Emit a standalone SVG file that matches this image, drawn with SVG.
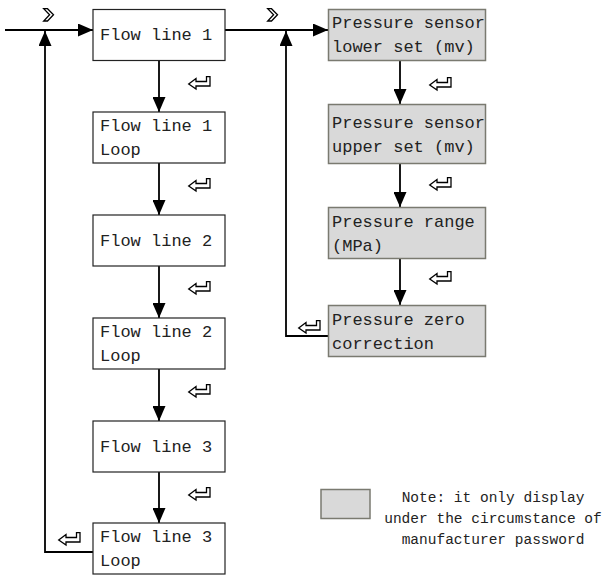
<svg xmlns="http://www.w3.org/2000/svg" width="608" height="575" viewBox="0 0 608 575">
<style>
.box{fill:#fff;stroke:#222;stroke-width:1.2}
.gbox{fill:#d9d9d9;stroke:#7a7a70;stroke-width:1.5}
.t{font-family:"Liberation Mono","DejaVu Sans Mono",monospace;font-size:17px;fill:#222}
.n{font-family:"Liberation Mono","DejaVu Sans Mono",monospace;font-size:14.5px;fill:#222;text-anchor:middle}
.ln{fill:none;stroke:#000;stroke-width:1.8}
.ic{fill:#fff;stroke:#000;stroke-width:1.3;stroke-linejoin:miter}
</style>
<defs>
<marker id="ah" markerUnits="userSpaceOnUse" markerWidth="15" markerHeight="13" refX="15" refY="6.5" orient="auto" viewBox="0 0 15 13">
<path d="M0,0 L15,6.5 L0,13 Z" fill="#000"/>
</marker>
<path id="ret" class="ic" d="M0.7,8 L8,2.5 L8,5.5 L18.5,5.5 L18.5,0.7 L22,0.7 L22,10 L8,10 L8,13 Z"/>
<path id="chev" class="ic" d="M0.7,0.7 L4.5,0.7 L10.5,6.8 L4.5,13 L0.7,13 L6.6,6.8 Z"/>
</defs>
<g id="connectors">
<path class="ln" d="M5,30 H93" marker-end="url(#ah)"/>
<path class="ln" d="M225,30 H328" marker-end="url(#ah)"/>
<path class="ln" d="M159,60 V112" marker-end="url(#ah)"/>
<path class="ln" d="M159,163 V215" marker-end="url(#ah)"/>
<path class="ln" d="M159,266 V318" marker-end="url(#ah)"/>
<path class="ln" d="M159,369 V421" marker-end="url(#ah)"/>
<path class="ln" d="M159,471 V523" marker-end="url(#ah)"/>
<path class="ln" d="M93,552 H45 V31" marker-end="url(#ah)"/>
<path class="ln" d="M400,60 V104" marker-end="url(#ah)"/>
<path class="ln" d="M400,164 V207" marker-end="url(#ah)"/>
<path class="ln" d="M400,259 V305" marker-end="url(#ah)"/>
<path class="ln" d="M328,336 H286 V31" marker-end="url(#ah)"/>
<use href="#chev" x="43" y="8"/>
<use href="#chev" x="267" y="8"/>
<use href="#ret" x="188" y="76"/>
<use href="#ret" x="188" y="178"/>
<use href="#ret" x="188" y="281"/>
<use href="#ret" x="188" y="384"/>
<use href="#ret" x="188" y="487"/>
<use href="#ret" x="58" y="532"/>
<use href="#ret" x="429" y="77"/>
<use href="#ret" x="429" y="177"/>
<use href="#ret" x="429" y="271"/>
<use href="#ret" x="298" y="320"/>
</g>
<g id="n1"><rect class="box" x="93" y="9.5" width="132" height="51"/><text class="t" x="100" y="40">Flow line 1</text></g>
<g id="n2"><rect class="box" x="93" y="112" width="132" height="51"/><text class="t" x="100" y="131">Flow line 1</text><text class="t" x="100" y="155">Loop</text></g>
<g id="n3"><rect class="box" x="93" y="215" width="132" height="51"/><text class="t" x="100" y="246">Flow line 2</text></g>
<g id="n4"><rect class="box" x="93" y="318" width="132" height="51"/><text class="t" x="100" y="337">Flow line 2</text><text class="t" x="100" y="361">Loop</text></g>
<g id="n5"><rect class="box" x="93" y="421" width="132" height="51"/><text class="t" x="100" y="452">Flow line 3</text></g>
<g id="n6"><rect class="box" x="93" y="523" width="132" height="51"/><text class="t" x="100" y="542">Flow line 3</text><text class="t" x="100" y="566">Loop</text></g>
<g id="p1"><rect class="gbox" x="328.5" y="9.5" width="157" height="51"/><text class="t" x="332" y="28">Pressure sensor</text><text class="t" x="332" y="52">lower set (mv)</text></g>
<g id="p2"><rect class="gbox" x="328.5" y="104.5" width="157" height="59"/><text class="t" x="332" y="128">Pressure sensor</text><text class="t" x="332" y="152">upper set (mv)</text></g>
<g id="p3"><rect class="gbox" x="328.5" y="207.5" width="157" height="51"/><text class="t" x="332" y="227">Pressure range</text><text class="t" x="332" y="251">(MPa)</text></g>
<g id="p4"><rect class="gbox" x="328.5" y="305.5" width="157" height="51"/><text class="t" x="332" y="325">Pressure zero</text><text class="t" x="332" y="349">correction</text></g>
<g id="legend"><rect class="gbox" x="321" y="489.5" width="49" height="29"/><text class="n" x="493" y="502">Note: it only display</text><text class="n" x="493" y="523">under the circumstance of</text><text class="n" x="493" y="544">manufacturer password</text></g>
</svg>
